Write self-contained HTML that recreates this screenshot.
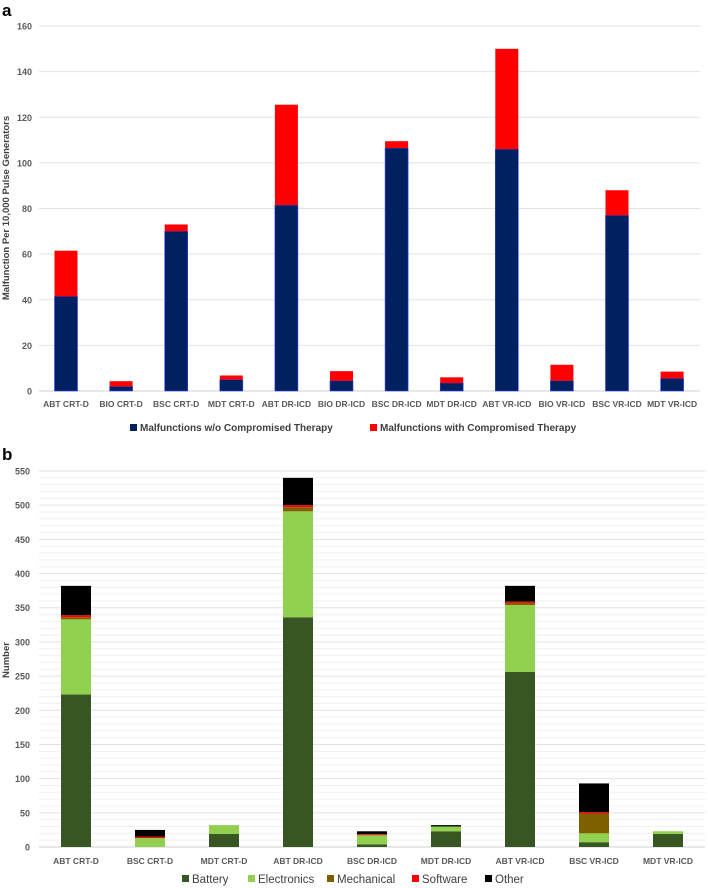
<!DOCTYPE html>
<html><head><meta charset="utf-8"><style>
body{margin:0;background:#fff;font-family:"Liberation Sans",sans-serif}
svg{display:block}
text{font-family:"Liberation Sans",sans-serif}
</style></head><body>
<svg id="s" width="708" height="888" xmlns="http://www.w3.org/2000/svg"></svg>
<script>
const catsA=["ABT CRT-D","BIO CRT-D","BSC CRT-D","MDT CRT-D","ABT DR-ICD","BIO DR-ICD","BSC DR-ICD","MDT DR-ICD","ABT VR-ICD","BIO VR-ICD","BSC VR-ICD","MDT VR-ICD"];
const noComp=[41.5,2,70,5,81.5,4.5,106.5,3.5,106,4.5,77,5.5];
const withComp=[20,2.3,3,1.8,44,4.2,3,2.5,44,7,11,3];
const ticksA=[0,20,40,60,80,100,120,140,160];
const catsB=["ABT CRT-D","BSC CRT-D","MDT CRT-D","ABT DR-ICD","BSC DR-ICD","MDT DR-ICD","ABT VR-ICD","BSC VR-ICD","MDT VR-ICD"];
const battery=[223,0,19,336,4,23,256,7,19];
const electronics=[110,13,13,155,13,7,98,13,4];
const mechanical=[3,0,0,6,1,0,3,29,0];
const software=[3,2,0,3,1,0,2,2,0];
const other=[43,10,0,40,4,2,23,42,0];
const ticksB=[0,50,100,150,200,250,300,350,400,450,500,550];

const s=document.getElementById('s');const NS="http://www.w3.org/2000/svg";
function mk(t,a,p){const e=document.createElementNS(NS,t);for(const k in a)e.setAttribute(k,a[k]);(p||s).appendChild(e);return e;}
function tx(x,y,str,a){const e=mk('text',Object.assign({x:x,y:y},a));e.textContent=str;return e;}

// Panel a
const gA=mk('g',{});


const lbA=tx(2,16,"a",{'font-size':17,'font-weight':'bold',fill:'#000'});

const yA=v=>391-v*365/160, xA=i=>66+i*55.1;
ticksA.forEach(t=>{
  const l=mk('line',{x1:39,x2:700,y1:yA(t),y2:yA(t),stroke:t?'#e2e2e2':'#d0d0d0','stroke-width':1},gA);
  
  const e=tx(32,yA(t)+3.5,t,{'font-size':9,'font-weight':'bold',fill:'#595959','text-anchor':'end'},);
  
});
catsA.forEach((c,i)=>{
  const b1=mk('rect',{x:xA(i)-11.5,y:yA(noComp[i]),width:23,height:yA(0)-yA(noComp[i]),fill:'#002060',stroke:'#3040ff','stroke-width':0.6},gA);
  
  const tot=noComp[i]+withComp[i];
  const b2=mk('rect',{x:xA(i)-11.5,y:yA(tot),width:23,height:yA(noComp[i])-yA(tot),fill:'#ff0000'},gA);
  
  const e=tx(xA(i),407,c,{'font-size':8.5,'font-weight':'bold',fill:'#595959','text-anchor':'middle'});
  
});
const ytA=tx(0,0,"Malfunction Per 10,000 Pulse Generators",{'font-size':9.5,'font-weight':'bold',fill:'#404040','text-anchor':'middle',transform:'translate(9,208) rotate(-90)'});

[["Malfunctions w/o Compromised Therapy","#002060",130],["Malfunctions with Compromised Therapy","#ff0000",370]].forEach(([n,c,x])=>{
  const r=mk('rect',{x:x,y:424,width:7,height:7,fill:c});
  const e=tx(x+10,431,n,{'font-size':10,'font-weight':'bold',fill:'#404040'});
});

// Panel b
const lbB=tx(2,460,"b",{'font-size':17,'font-weight':'bold',fill:'#000'});

const yB=v=>847-v*376/550, xB=i=>76+i*74;
for(let v=10;v<=550;v+=10){const l=mk('line',{x1:39,x2:705,y1:yB(v),y2:yB(v),stroke:v%50?'#f0f0f0':'#e2e2e2','stroke-width':1});}
mk('line',{x1:39,x2:705,y1:yB(0),y2:yB(0),stroke:'#d0d0d0'});
ticksB.forEach(t=>{const e=tx(30,yB(t)+3.5,t,{'font-size':9,'font-weight':'bold',fill:'#595959','text-anchor':'end'});});
const series=[[battery,'#375623','battery'],[electronics,'#92d050','electronics'],[mechanical,'#7f6000','mechanical'],[software,'#ff0000','software'],[other,'#000000','other']];
catsB.forEach((c,i)=>{
  let acc=0;
  series.forEach(([arr,col,nm])=>{
    const v=arr[i];if(v>0){
      const r=mk('rect',{x:xB(i)-15,y:yB(acc+v),width:30,height:yB(acc)-yB(acc+v),fill:col});
      }
    acc+=v;
  });
  const e=tx(xB(i),864,c,{'font-size':8.5,'font-weight':'bold',fill:'#595959','text-anchor':'middle'});
  
});
const ytB=tx(0,0,"Number",{'font-size':9.5,'font-weight':'bold',fill:'#404040','text-anchor':'middle',transform:'translate(9,660) rotate(-90)'});

[["Battery","#375623",182],["Electronics","#92d050",248],["Mechanical","#7f6000",327],["Software","#ff0000",412],["Other","#000000",485]].forEach(([n,c,x])=>{
  const r=mk('rect',{x:x,y:875,width:7,height:7,fill:c});
  const e=tx(x+10,883,n,{'font-size':11.5,fill:'#404040'});
});
</script>
</body></html>
